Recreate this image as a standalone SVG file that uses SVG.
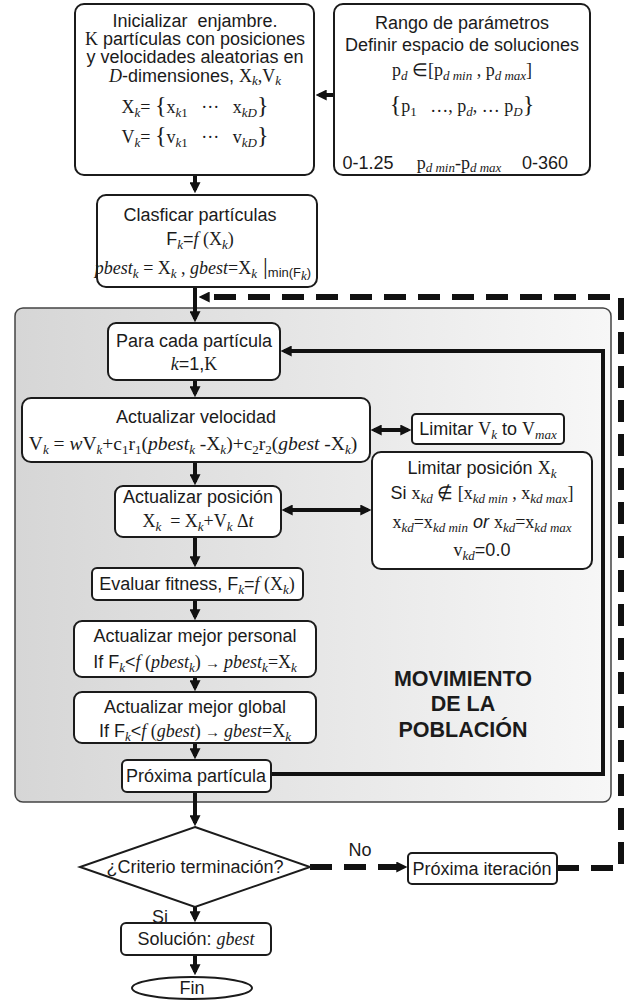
<svg xmlns="http://www.w3.org/2000/svg" width="627" height="1000" viewBox="0 0 627 1000">
<defs>
<linearGradient id="pg" x1="0" x2="1" y1="0" y2="0"><stop offset="0" stop-color="#d6d6d6"/><stop offset="1" stop-color="#f7f7f7"/></linearGradient>
<marker id="ah" viewBox="0 0 10 10" refX="7" refY="5" markerWidth="11" markerHeight="11" markerUnits="userSpaceOnUse" orient="auto-start-reverse"><path d="M0,0 L10,5 L0,10 z" fill="#111"/></marker>
<marker id="ahs" viewBox="0 0 10 10" refX="8" refY="5" markerWidth="8" markerHeight="8" markerUnits="userSpaceOnUse" orient="auto"><path d="M0,0 L10,5 L0,10 z" fill="#111"/></marker>
</defs>
<style>
text{font-family:"Liberation Sans",Arial,sans-serif;font-size:18px;fill:#1b1b1b;text-anchor:middle}
.s{font-family:"Liberation Serif","Times New Roman",serif}
.i{font-style:italic}
.sb{font-size:13px}
.br{font-size:24px}
.ar{font-size:15px}
.b{font-weight:bold;font-size:21.5px}
.f19{font-size:19.5px}
.box{fill:#fff;stroke:#1b1b1b;stroke-width:2}
.c{fill:none;stroke:#111;stroke-width:4}
.d{fill:none;stroke:#111;stroke-width:6;stroke-dasharray:22 12}
.thin{fill:none;stroke:#111;stroke-width:2}
</style>
<rect width="627" height="1000" fill="#fff"/>
<g id="panel"><rect x="15" y="308" width="596" height="494" rx="8" fill="url(#pg)" stroke="#444" stroke-width="1.5"/>
<text class="b" x="463" y="686">MOVIMIENTO</text><text class="b" x="463" y="711">DE LA</text><text class="b" x="463" y="737">POBLACIÓN</text></g>

<g id="connectors">
<path class="c" d="M334,95 H319" marker-end="url(#ah)"/>
<path class="c" d="M195,175 V190" marker-end="url(#ah)"/>
<path class="c" d="M195,287 V319" marker-end="url(#ah)"/>
<path class="d" d="M557,868 H621 V297 H202" marker-end="url(#ah)"/>
<path class="d" d="M310,867 H404" marker-end="url(#ah)"/>
<path class="c" d="M195,380 V394" marker-end="url(#ah)"/>
<path class="c" d="M195,462 V482" marker-end="url(#ah)"/>
<path class="c" d="M195,537 V564" marker-end="url(#ah)"/>
<path class="c" d="M195,600 V617" marker-end="url(#ah)"/>
<path class="c" d="M195,677 V688" marker-end="url(#ah)"/>
<path class="c" d="M195,743 V756" marker-end="url(#ah)"/>
<path class="c" d="M195,792 V823" marker-end="url(#ah)"/>
<path class="c" d="M271,774 H603 V351 H284" marker-end="url(#ah)"/>
<path class="c" d="M374,430 H408" marker-start="url(#ah)" marker-end="url(#ah)"/>
<path class="c" d="M285,510 H368" marker-start="url(#ah)" marker-end="url(#ah)"/>
<path class="c" d="M195,907 V919" marker-end="url(#ah)"/>
<path class="c" d="M195,955 V972" marker-end="url(#ah)"/>
<path class="thin" d="M380,150 L401,123" marker-end="url(#ahs)"/>
<path class="thin" d="M464,150 V122" marker-end="url(#ahs)"/>
<path class="thin" d="M548,150 L527,124" marker-end="url(#ahs)"/>
</g>

<g id="init"><rect class="box" x="75" y="4" width="239" height="171" rx="9"/>
<text x="195" y="27">Inicializar&#160; enjambre.</text>
<text x="195" y="45"><tspan class="s">K</tspan> partículas con posiciones</text>
<text x="195" y="63">y velocidades aleatorias en</text>
<text x="195" y="82"><tspan class="s i">D</tspan>-dimensiones, <tspan class="s">X</tspan><tspan class="s i sb" dy="3">k</tspan><tspan class="s" dy="-3">,V</tspan><tspan class="s i sb" dy="3">k</tspan></text>
<text x="195" y="113" class="s">X<tspan class="i sb" dy="4">k</tspan><tspan dy="-4">= </tspan><tspan class="br">{</tspan>x<tspan class="i sb" dy="4">k</tspan><tspan class="sb">1</tspan><tspan dy="-4">&#160;&#160; ···&#160;&#160; x</tspan><tspan class="i sb" dy="4">kD</tspan><tspan class="br" dy="-4">}</tspan></text>
<text x="195" y="143" class="s">V<tspan class="i sb" dy="4">k</tspan><tspan dy="-4">= </tspan><tspan class="br">{</tspan>v<tspan class="i sb" dy="4">k</tspan><tspan class="sb">1</tspan><tspan dy="-4">&#160;&#160; ···&#160;&#160; v</tspan><tspan class="i sb" dy="4">kD</tspan><tspan class="br" dy="-4">}</tspan></text>
</g>

<g id="rango"><rect class="box" x="334" y="4" width="256" height="171" rx="9"/>
<text x="462" y="29">Rango de parámetros</text>
<text x="462" y="51">Definir espacio de soluciones</text>
<text x="462" y="76" class="s">p<tspan class="i sb" dy="4">d</tspan><tspan dy="-4"> ∈[p</tspan><tspan class="i sb" dy="4">d min</tspan><tspan dy="-4"> , p</tspan><tspan class="i sb" dy="4">d max</tspan><tspan dy="-4">]</tspan></text>
<text x="462" y="112" class="s"><tspan class="br">{</tspan>p<tspan class="sb" dy="4">1</tspan><tspan dy="-4">&#160;&#160; …, p</tspan><tspan class="i sb" dy="4">d</tspan><tspan dy="-4">, … p</tspan><tspan class="i sb" dy="4">D</tspan><tspan class="br" dy="-4">}</tspan></text>
<text x="368" y="169">0-1.25</text>
<text x="459" y="169" class="s">p<tspan class="i sb" dy="3">d min</tspan><tspan dy="-3">-p</tspan><tspan class="i sb" dy="3">d max</tspan></text>
<text x="545" y="169">0-360</text>
</g>

<g id="clasificar"><rect class="box" x="97" y="195" width="220" height="92" rx="9"/>
<text x="200" y="221">Clasficar partículas</text>
<text x="200" y="245">F<tspan class="s i sb" dy="4">k</tspan><tspan dy="-4">=</tspan><tspan class="s i">f </tspan><tspan class="s">(X</tspan><tspan class="s i sb" dy="4">k</tspan><tspan class="s" dy="-4">)</tspan></text>
<text x="203" y="274" class="s"><tspan class="i">pbest</tspan><tspan class="i sb" dy="4">k</tspan><tspan dy="-4"> = X</tspan><tspan class="i sb" dy="4">k</tspan><tspan dy="-4"> , </tspan><tspan class="i">gbest</tspan><tspan>=X</tspan><tspan class="i sb" dy="4">k</tspan><tspan dy="-4" class="br"> |</tspan><tspan style="font-family:'Liberation Sans',Arial,sans-serif" class="sb" dy="3">min(F</tspan><tspan class="i sb" dy="3">k</tspan><tspan style="font-family:'Liberation Sans',Arial,sans-serif" class="sb" dy="-3">)</tspan></text>
</g>

<g id="para"><rect class="box" x="108" y="323" width="172" height="57" rx="8"/>
<text x="194" y="347">Para cada partícula</text>
<text x="194" y="370"><tspan class="s i">k</tspan>=1,<tspan class="s">K</tspan></text>
</g>

<g id="velocidad"><rect class="box" x="22" y="398" width="348" height="64" rx="9"/>
<text x="196" y="423">Actualizar velocidad</text>
<text x="193" y="450" class="s f19">V<tspan class="i sb" dy="4">k</tspan><tspan dy="-4"> = </tspan><tspan class="i">w</tspan>V<tspan class="i sb" dy="4">k</tspan><tspan dy="-4">+c</tspan><tspan class="sb" dy="4">1</tspan><tspan dy="-4">r</tspan><tspan class="sb" dy="4">1</tspan><tspan dy="-4">(</tspan><tspan class="i">pbest</tspan><tspan class="i sb" dy="4">k</tspan><tspan dy="-4"> -X</tspan><tspan class="i sb" dy="4">k</tspan><tspan dy="-4">)+c</tspan><tspan class="sb" dy="4">2</tspan><tspan dy="-4">r</tspan><tspan class="sb" dy="4">2</tspan><tspan dy="-4">(</tspan><tspan class="i">gbest</tspan><tspan> -X</tspan><tspan class="i sb" dy="4">k</tspan><tspan dy="-4">)</tspan></text>
</g>

<g id="limitv"><rect class="box" x="412" y="414" width="152" height="30" rx="4"/>
<text x="488" y="435">Limitar <tspan class="s">V</tspan><tspan class="s i sb" dy="4">k</tspan><tspan dy="-4"> to </tspan><tspan class="s">V</tspan><tspan class="s i sb" dy="4">max</tspan></text>
</g>

<g id="limitx"><rect class="box" x="372" y="452" width="220" height="117" rx="9"/>
<text x="482" y="474">Limitar posición <tspan class="s">X</tspan><tspan class="s i sb" dy="4">k</tspan></text>
<text x="482" y="499">Si <tspan class="s">x</tspan><tspan class="s i sb" dy="4">kd</tspan><tspan class="s" dy="-4"> ∉ [x</tspan><tspan class="s i sb" dy="4">kd min</tspan><tspan class="s" dy="-4"> , x</tspan><tspan class="s i sb" dy="4">kd max</tspan><tspan class="s" dy="-4">]</tspan></text>
<text x="482" y="528"><tspan class="s">x</tspan><tspan class="s i sb" dy="4">kd</tspan><tspan class="s" dy="-4">=x</tspan><tspan class="s i sb" dy="4">kd min</tspan><tspan class="i" dy="-4"> or </tspan><tspan class="s">x</tspan><tspan class="s i sb" dy="4">kd</tspan><tspan class="s" dy="-4">=x</tspan><tspan class="s i sb" dy="4">kd max</tspan></text>
<text x="482" y="556"><tspan class="s">v</tspan><tspan class="s i sb" dy="4">kd</tspan><tspan dy="-4">=0.0</tspan></text>
</g>

<g id="posicion"><rect class="box" x="115" y="486" width="166" height="51" rx="8"/>
<text x="198" y="503">Actualizar posición</text>
<text x="198" y="527" class="s">X<tspan class="i sb" dy="4">k</tspan><tspan dy="-4">&#160; = X</tspan><tspan class="i sb" dy="4">k</tspan><tspan dy="-4">+V</tspan><tspan class="i sb" dy="4">k</tspan><tspan dy="-4"> Δ</tspan><tspan class="i">t</tspan></text>
</g>

<g id="fitness"><rect class="box" x="92" y="568" width="211" height="32" rx="5"/>
<text x="197" y="590">Evaluar fitness, F<tspan class="s i sb" dy="4">k</tspan><tspan dy="-4">=</tspan><tspan class="s i">f </tspan><tspan class="s">(X</tspan><tspan class="s i sb" dy="4">k</tspan><tspan class="s" dy="-4">)</tspan></text>
</g>

<g id="personal"><rect class="box" x="74" y="621" width="242" height="56" rx="8"/>
<text x="195" y="642">Actualizar mejor personal</text>
<text x="195" y="668">If F<tspan class="s i sb" dy="4">k</tspan><tspan dy="-4">&lt;</tspan><tspan class="s i">f </tspan><tspan class="s">(</tspan><tspan class="s i">pbest</tspan><tspan class="s i sb" dy="4">k</tspan><tspan class="s" dy="-4">)</tspan><tspan class="ar"> → </tspan><tspan class="s i">pbest</tspan><tspan class="s i sb" dy="4">k</tspan><tspan class="s" dy="-4">=X</tspan><tspan class="s i sb" dy="4">k</tspan></text>
</g>

<g id="global"><rect class="box" x="74" y="692" width="242" height="51" rx="8"/>
<text x="195" y="713">Actualizar mejor global</text>
<text x="195" y="737">If F<tspan class="s i sb" dy="4">k</tspan><tspan dy="-4">&lt;</tspan><tspan class="s i">f </tspan><tspan class="s">(</tspan><tspan class="s i">gbest</tspan><tspan class="s">)</tspan><tspan class="ar"> → </tspan><tspan class="s i">gbest</tspan><tspan class="s">=X</tspan><tspan class="s i sb" dy="4">k</tspan></text>
</g>

<g id="proxima"><rect class="box" x="122" y="760" width="149" height="32" rx="5"/>
<text x="196" y="782">Próxima partícula</text>
</g>

<g id="criterio"><polygon class="box" points="195,827 310,867 195,907 80,867"/>
<text x="195" y="873">¿Criterio terminación?</text>
<text x="360" y="856">No</text>
<text x="160" y="923">Si</text>
</g>

<g id="iteracion"><rect class="box" x="408" y="853" width="149" height="31" rx="4"/>
<text x="482" y="875">Próxima iteración</text>
</g>

<g id="solucion"><rect class="box" x="121" y="923" width="150" height="32" rx="5"/>
<text x="196" y="945">Solución: <tspan class="s i">gbest</tspan></text>
</g>

<g id="fin"><ellipse class="box" cx="192" cy="988" rx="60" ry="11"/>
<text x="192" y="994">Fin</text>
</g>
</svg>
